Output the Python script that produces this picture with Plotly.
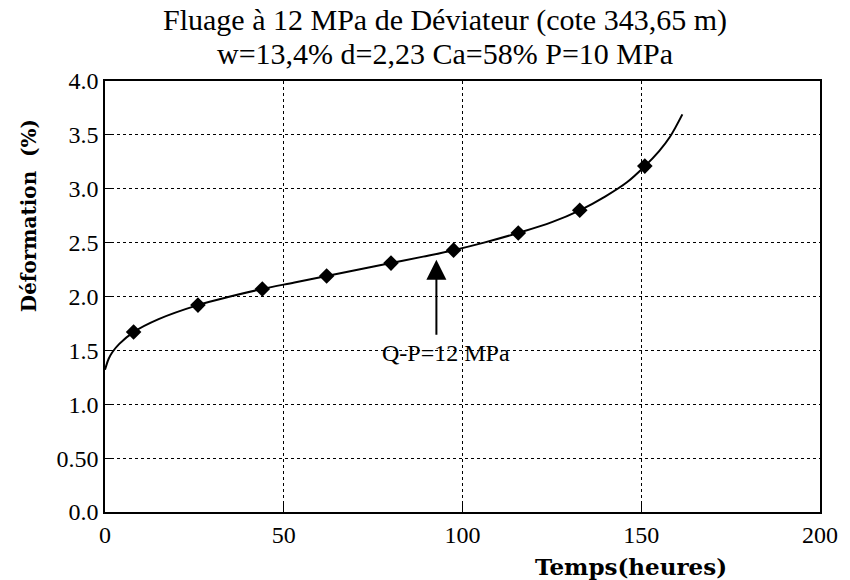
import plotly.graph_objects as go

# Curve
curve_t = [0, 1, 2, 4, 8, 15, 26, 35, 44, 53, 62, 71, 80, 89, 97.5, 106, 115.6, 125, 132.8, 140, 146, 151, 155, 158, 161.5]
curve_d = [1.32, 1.42, 1.48, 1.56, 1.67, 1.79, 1.92, 2.00, 2.07, 2.13, 2.19, 2.25, 2.31, 2.37, 2.43, 2.50, 2.59, 2.69, 2.80, 2.93, 3.06, 3.21, 3.35, 3.48, 3.69]

# Markers
mark_t = [8, 26, 44, 62, 80, 97.5, 115.6, 132.8, 151]
mark_d = [1.67, 1.92, 2.07, 2.19, 2.31, 2.43, 2.59, 2.80, 3.21]

x_ticks = [0, 50, 100, 150, 200]
y_ticks = [0.0, 0.5, 1.0, 1.5, 2.0, 2.5, 3.0, 3.5, 4.0]
y_ticklabels = ["0.0", "0.50", "1.0", "1.5", "2.0", "2.5", "3.0", "3.5", "4.0"]

title_1 = "Fluage à 12 MPa de Déviateur (cote 343,65 m)"
title_2 = "w=13,4% d=2,23 Ca=58% P=10 MPa"
x_title = "Temps(heures)"
y_title = "Déformation&nbsp;&nbsp;(%)"
arrow_label = "Q-P=12 MPa"

FONT = "Liberation Serif, Times New Roman, serif"
BOLD_FONT = "DejaVu Serif, serif"
W, H = 850, 580
L, R, T, B = 105, 28, 81, 68
PW, PH = W - L - R, H - T - B


def px(xp):  # pixel x -> paper
    return (xp - L) / PW


def py(yp):  # pixel y -> paper
    return (H - B - yp) / PH


def label(x, y, text, size, family=FONT, angle=0):
    fig.add_annotation(x=px(x), y=py(y), xref="paper", yref="paper", text=text, showarrow=False,
                       xanchor="center", yanchor="middle", textangle=angle,
                       font=dict(family=family, size=size, color="black"))


fig = go.Figure()
fig.add_trace(go.Scatter(x=curve_t, y=curve_d, mode="lines", line=dict(color="black", width=2, shape="spline"),
                         hoverinfo="skip", showlegend=False))
fig.add_trace(go.Scatter(x=mark_t, y=mark_d, mode="markers",
                         marker=dict(symbol="diamond", size=12, color="black"), showlegend=False))

fig.add_annotation(x=92.7, y=2.34, ax=92.7, ay=1.63, xref="x", yref="y", axref="x", ayref="y",
                   text="", showarrow=True, arrowhead=2, arrowsize=2, arrowwidth=2, arrowcolor="black")
fig.add_annotation(x=95.5, y=1.48, xref="x", yref="y", text=arrow_label, showarrow=False,
                   xanchor="center", yanchor="middle",
                   font=dict(family=FONT, size=24, color="black"))

label(446, 20, title_1, 30)
label(446, 53, title_2, 30)
label(632, 566, "<b>" + x_title + "</b>", 23, BOLD_FONT)
label(29, 216, "<b>" + y_title + "</b>", 20, BOLD_FONT, -90)

fig.update_layout(
    width=W, height=H,
    margin=dict(l=L, r=R, t=T, b=B),
    paper_bgcolor="white", plot_bgcolor="white",
    font=dict(family=FONT, color="black"),
)

fig.update_xaxes(range=[0, 200], tickvals=x_ticks, ticks="inside", ticklen=8, tickcolor="black",
                 showgrid=True, gridcolor="black", griddash="dot", gridwidth=1,
                 showline=True, linecolor="black", linewidth=1.5, mirror=True, zeroline=False,
                 tickfont=dict(family=FONT, size=24, color="black"))
fig.update_yaxes(range=[0, 4.0], tickvals=y_ticks, ticktext=y_ticklabels, ticks="inside", ticklen=8,
                 tickcolor="black", showgrid=True, gridcolor="black", griddash="dot", gridwidth=1,
                 showline=True, linecolor="black", linewidth=1.5, mirror=True, zeroline=False,
                 tickfont=dict(family=FONT, size=24, color="black"))

fig.write_html("out.html", config={"displayModeBar": False},
               post_script="document.body.style.margin='0';document.body.style.overflow='hidden';")
